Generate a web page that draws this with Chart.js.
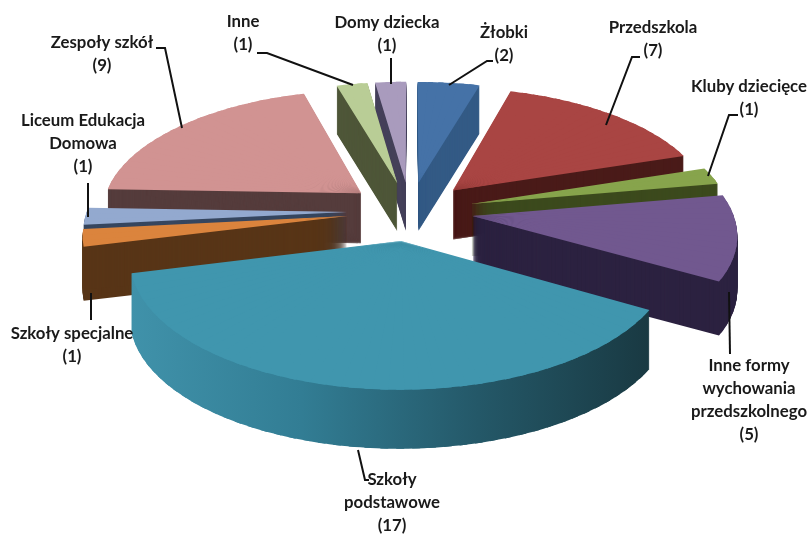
<!DOCTYPE html>
<html>
<head>
<meta charset="utf-8">
<script src="https://cdn.jsdelivr.net/npm/chart.js@4/dist/chart.umd.min.js"></script>
<style>
  html, body { margin: 0; padding: 0; background: #fff; }
  canvas { display: block; }
</style>
</head>
<body>
<canvas id="myChart" width="811" height="534"></canvas>
<script>
var categories = ['Żłobki', 'Przedszkola', 'Kluby dziecięce', 'Inne formy wychowania przedszkolnego', 'Szkoły podstawowe', 'Szkoły specjalne', 'Liceum Edukacja Domowa', 'Zespoły szkół', 'Inne', 'Domy dziecka'];
var counts = [2, 7, 1, 5, 17, 1, 1, 9, 1, 1];

var topColors = ['#4572a7', '#a94543', '#87a44c', '#71588f', '#4096ae', '#db843d', '#93a9cf', '#d19392', '#b9cd96', '#a99bbd'];
var wallColors = ['#335a85', '#4a1b19', '#3c4a1d', '#2c2240', null, '#583517', '#36465f', '#553c3c', '#4e5638', '#45405a'];
// teal wall goes dark from left to right, stops run over these screen x
var tealWallFrom = 130, tealWallTo = 650;
var tealWallStops = [[0, '#4092aa'], [0.33, '#327d94'], [0.67, '#245868'], [1, '#193942']];

var labelLines = [['Żłobki', '(2)'], ['Przedszkola', '(7)'], ['Kluby dziecięce', '(1)'], ['Inne formy', 'wychowania', 'przedszkolnego', '(5)'], ['Szkoły', 'podstawowe', '(17)'], ['Szkoły specjalne', '(1)'], ['Liceum Edukacja', 'Domowa', '(1)'], ['Zespoły szkół', '(9)'], ['Inne', '(1)'], ['Domy dziecka', '(1)']];
var labelX = [504, 653, 749, 749, 392, 72, 83, 102, 243, 387];
var labelY = [33, 28, 87, 366, 480, 334, 121, 43, 22, 23];
var lineHeight = 23;
var leaders = [
  [[449, 85], [487, 61], [493, 61]],
  [[606, 125], [632, 57], [640, 57]],
  [[708, 176], [729, 115], [738, 115]],
  [[729, 292], [730, 354]],
  [[358, 450], [365, 480], [369, 480]],
  [[91, 293], [91, 320]],
  [[88, 183], [88, 217]],
  [[182, 128], [165, 48], [156, 48]],
  [[353, 85], [267, 53], [257, 53]],
  [[391, 58], [391, 84]]
];

// the flat pie lies on a plane seen in perspective
var centerX = 410, centerY = 211;
var pieRadius = 260, explode = 63;
var tiltY = 0.465, perspective = 0.0005, wallDepth = 53;
var wedgeStep = Math.PI / 60;

function project(x, y) {
  var s = 1 / (1 - perspective * y);
  return { x: centerX + x * s, y: centerY + tiltY * y * s };
}

// affine map that puts a wedge's apex and both outer corners where the plane says
function wedgeTransform(arc, mid, start, end) {
  var r = arc.outerRadius;
  var ox = Math.cos(mid) * explode, oy = Math.sin(mid) * explode;
  var c1 = Math.cos(start), s1 = Math.sin(start);
  var c2 = Math.cos(end), s2 = Math.sin(end);
  var p0 = project(ox, oy);
  var p1 = project(ox + c1 * pieRadius, oy + s1 * pieRadius);
  var p2 = project(ox + c2 * pieRadius, oy + s2 * pieRadius);
  var det = r * (c1 * s2 - c2 * s1);
  var a = ((p1.x - p0.x) * s2 - (p2.x - p0.x) * s1) / det;
  var b = ((p1.y - p0.y) * s2 - (p2.y - p0.y) * s1) / det;
  var c = ((p2.x - p0.x) * c1 - (p1.x - p0.x) * c2) / det;
  var d = ((p2.y - p0.y) * c1 - (p1.y - p0.y) * c2) / det;
  return { a: a, b: b, c: c, d: d, e: p0.x - a * arc.x - c * arc.y, f: p0.y - b * arc.x - d * arc.y };
}

// gradient given in the wedge's own coordinates that comes out as a plain
// left to right gradient on screen once the wedge transform is applied
function tealWall(ctx, m) {
  var n2 = m.a * m.a + m.c * m.c;
  var u0 = (tealWallFrom - m.e) * m.a / n2, v0 = (tealWallFrom - m.e) * m.c / n2;
  var len = tealWallTo - tealWallFrom;
  var grad = ctx.createLinearGradient(u0, v0, u0 + len * m.a / n2, v0 + len * m.c / n2);
  tealWallStops.forEach(function(s) { grad.addColorStop(s[0], s[1]); });
  return grad;
}

function drawWedge(ctx, arc, m, start, end, dy, fill) {
  var saved = arc.options;
  var sa = arc.startAngle, ea = arc.endAngle, ci = arc.circumference;
  arc.options = Object.assign({}, saved, { backgroundColor: fill, borderWidth: 0 });
  arc.startAngle = start;
  arc.endAngle = end;
  arc.circumference = end - start;
  ctx.save();
  ctx.translate(0, dy);
  ctx.transform(m.a, m.b, m.c, m.d, m.e, m.f);
  arc.draw(ctx);
  ctx.restore();
  arc.options = saved;
  arc.startAngle = sa;
  arc.endAngle = ea;
  arc.circumference = ci;
}

var pie3d = {
  id: 'pie3d',
  beforeDatasetDraw: function(chart, args) {
    var ctx = chart.ctx;
    var arcs = args.meta.data;
    var order = arcs.map(function(a, i) { return i; });
    order.sort(function(i, j) {
      var mi = (arcs[i].startAngle + arcs[i].endAngle) / 2;
      var mj = (arcs[j].startAngle + arcs[j].endAngle) / 2;
      return Math.sin(mi) - Math.sin(mj);
    });
    order.forEach(function(i) {
      var arc = arcs[i];
      var sa = arc.startAngle, ea = arc.endAngle;
      var mid = (sa + ea) / 2;
      var n = Math.ceil((ea - sa) / wedgeStep);
      var step = (ea - sa) / n;
      var outerY = Math.sin(mid) * (explode + pieRadius * 0.6);
      var depth = Math.round(wallDepth / (1 - perspective * outerY));
      var wedges = [];
      var k, dy;
      for (k = 0; k < n; k++) {
        var w0 = sa + k * step, w1 = w0 + step;
        // each wedge runs on under the next one so no seam shows
        wedges.push({ start: w0, end: k < n - 1 ? w1 + step / 2 : w1, m: wedgeTransform(arc, mid, w0, w1) });
      }
      wedges.forEach(function(w) {
        var wall = wallColors[i] || tealWall(ctx, w.m);
        for (dy = depth; dy > 0; dy--) {
          drawWedge(ctx, arc, w.m, w.start, w.end, dy, wall);
        }
      });
      wedges.forEach(function(w) {
        drawWedge(ctx, arc, w.m, w.start, w.end, 0, topColors[i]);
      });
    });
    return false;
  },
  afterDraw: function(chart) {
    var ctx = chart.ctx;
    ctx.save();
    ctx.strokeStyle = '#111';
    ctx.lineWidth = 2;
    leaders.forEach(function(line) {
      ctx.beginPath();
      line.forEach(function(p, i) {
        if (i === 0) ctx.moveTo(p[0], p[1]); else ctx.lineTo(p[0], p[1]);
      });
      ctx.stroke();
    });
    ctx.fillStyle = '#1a1a1a';
    ctx.font = 'bold 16.8px Lato, "Open Sans", sans-serif';
    ctx.textAlign = 'center';
    ctx.textBaseline = 'middle';
    labelLines.forEach(function(lines, i) {
      lines.forEach(function(txt, j) {
        ctx.fillText(txt, labelX[i], labelY[i] + j * lineHeight);
      });
    });
    ctx.restore();
  }
};

var ctx = document.getElementById('myChart').getContext('2d');
var myChart = new Chart(ctx, {
  type: 'pie',
  data: {
    labels: categories,
    datasets: [{ data: counts, backgroundColor: topColors, borderWidth: 0 }]
  },
  options: {
    responsive: false,
    animation: false,
    plugins: { legend: { display: false }, tooltip: { enabled: false } }
  },
  plugins: [pie3d]
});
</script>
</body>
</html>
